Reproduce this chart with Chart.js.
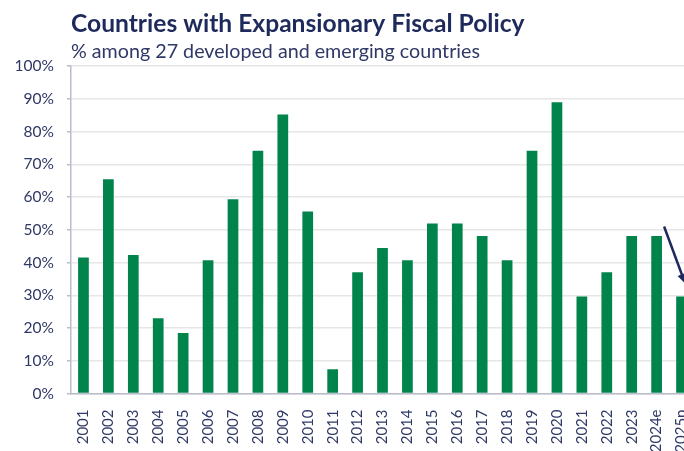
<!DOCTYPE html>
<html>
<head>
<meta charset="utf-8">
<script src="https://cdn.jsdelivr.net/npm/chart.js@4.4.1/dist/chart.umd.min.js"></script>
<style>
  html, body { margin: 0; padding: 0; background: #ffffff; overflow: hidden; }
  canvas { display: block; }
</style>
</head>
<body>
<canvas id="c" width="694" height="451" style="width:694px;height:451px"></canvas>
<script>
const titleText = "Countries with Expansionary Fiscal Policy";
const subtitleText = "% among 27 developed and emerging countries";
const categories = ["2001","2002","2003","2004","2005","2006","2007","2008","2009","2010","2011","2012","2013","2014","2015","2016","2017","2018","2019","2020","2021","2022","2023","2024e","2025p"];
const shareExpansionary = [41.5, 65.4, 42.3, 23.0, 18.5, 40.7, 59.3, 74.1, 85.2, 55.6, 7.4, 37.0, 44.4, 40.7, 51.9, 51.9, 48.1, 40.7, 74.1, 88.9, 29.6, 37.0, 48.1, 48.1, 29.6];
const yTicks = [0, 10, 20, 30, 40, 50, 60, 70, 80, 90, 100];
const arrowFrom = [23.3, 51];
const arrowTo = [24.15, 33.5];

const NAVY = "#1f2a5c";
const TICKNAVY = "#2f3866";
const GREEN = "#00844c";

const annotations = {
  id: "annotations",
  afterDatasetsDraw(chart) {
    const ctx = chart.ctx;
    const xs = chart.scales.x, ys = chart.scales.y;
    const x1 = xs.getPixelForValue(arrowFrom[0]), y1 = ys.getPixelForValue(arrowFrom[1]);
    const x2 = xs.getPixelForValue(arrowTo[0]), y2 = ys.getPixelForValue(arrowTo[1]);
    const ang = Math.atan2(y2 - y1, x2 - x1);
    const head = 11;
    ctx.save();
    ctx.strokeStyle = NAVY; ctx.fillStyle = NAVY; ctx.lineWidth = 2.5;
    ctx.beginPath();
    ctx.moveTo(x1, y1);
    ctx.lineTo(x2 - Math.cos(ang) * head * 0.8, y2 - Math.sin(ang) * head * 0.8);
    ctx.stroke();
    ctx.beginPath();
    ctx.moveTo(x2, y2);
    ctx.lineTo(x2 - head * Math.cos(ang - 0.42), y2 - head * Math.sin(ang - 0.42));
    ctx.lineTo(x2 - head * Math.cos(ang + 0.42), y2 - head * Math.sin(ang + 0.42));
    ctx.closePath();
    ctx.fill();
    ctx.restore();
  },
  afterDraw(chart) {
    const ctx = chart.ctx;
    const left = chart.chartArea.left;
    ctx.save();
    ctx.textAlign = "left";
    ctx.textBaseline = "alphabetic";
    ctx.fillStyle = NAVY;
    ctx.font = "bold 24.6px Lato";
    ctx.fillText(titleText, left, 32);
    ctx.fillStyle = TICKNAVY;
    ctx.font = "19.7px Lato";
    ctx.fillText(subtitleText, left, 58);
    ctx.restore();
  }
};

new Chart(document.getElementById("c"), {
  type: "bar",
  data: {
    labels: categories,
    datasets: [{
      data: shareExpansionary,
      backgroundColor: GREEN,
      borderWidth: 0,
      categoryPercentage: 1,
      barPercentage: 0.43
    }]
  },
  options: {
    responsive: false,
    maintainAspectRatio: false,
    animation: false,
    devicePixelRatio: 1,
    layout: { padding: { top: 66, right: 0, left: 0, bottom: 0 } },
    plugins: { legend: { display: false }, tooltip: { enabled: false }, title: { display: false } },
    scales: {
      x: {
        afterFit(s) { s.height = 57.5; s.paddingLeft = 0; s.paddingRight = 0; },
        grid: { display: false },
        border: { display: true, color: "#b9bccd", width: 1.5 },
        ticks: {
          autoSkip: false, minRotation: 90, maxRotation: 90,
          color: TICKNAVY, font: { family: "Lato", size: 15 }, padding: 8
        }
      },
      y: {
        min: 0, max: 100,
        afterFit(s) { s.width = 71; s.paddingTop = 0; s.paddingBottom = 0; },
        afterBuildTicks(s) { s.ticks = yTicks.map(v => ({ value: v })); },
        grid: { color: "#e6e6e6", lineWidth: 1.5, tickLength: 4, tickColor: "#b9bccd" },
        border: { display: true, color: "#b9bccd", width: 1.5 },
        ticks: {
          color: TICKNAVY, font: { family: "Lato", size: 15.5 }, padding: 13,
          callback: v => v + "%"
        }
      }
    }
  },
  plugins: [annotations]
});
</script>
</body>
</html>
